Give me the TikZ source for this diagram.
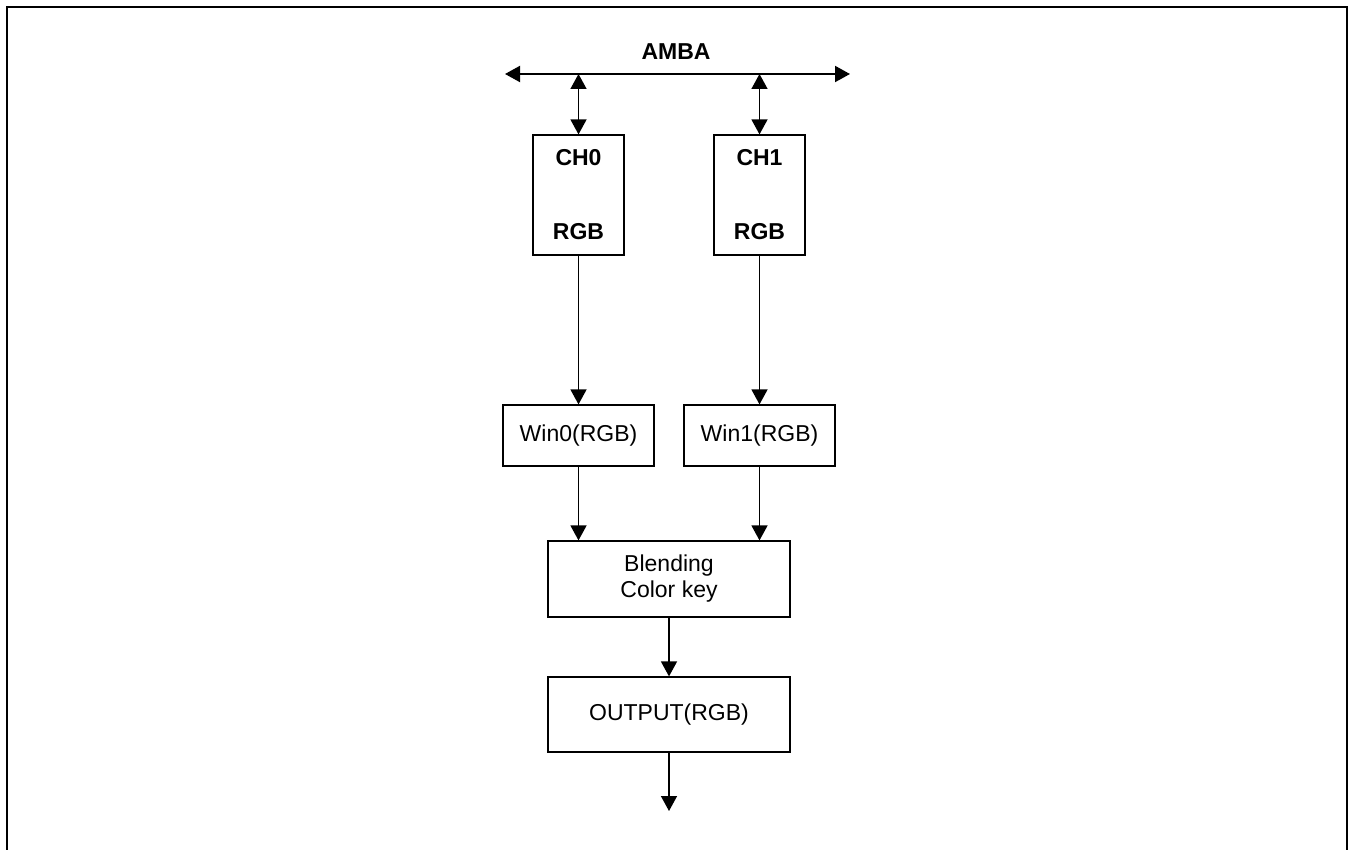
\documentclass[tikz,border=0pt]{standalone}
\usepackage{fontspec}
\setmainfont{Liberation Sans}
\usetikzlibrary{arrows.meta, positioning}

\begin{document}
\begin{tikzpicture}[x=0.5pt, y=-0.5pt, >={Triangle[length=7.5pt,width=8pt]},
  font=\fontsize{11.5}{13}\selectfont,
  blk/.style={draw, line width=0.6pt, inner sep=0pt, align=center},
  chbox/.style={blk, minimum width=45.5pt, minimum height=60pt, font=\fontsize{11.5}{13}\selectfont\bfseries},
  flow/.style={->, line width=0.75pt}]
\useasboundingbox (0,0) rectangle (1349,850);
% outer frame, bottom edge cut off
\draw[line width=1pt] (7,860)--(7,7)--(1347,7)--(1347,860);
% Bus
\node[font=\fontsize{11.5}{13}\selectfont\bfseries] (amba) at (676,52) {AMBA};
\coordinate (busL) at (505,74);
\coordinate (busR) at (850,74);
\draw[<->, line width=1pt] (busL)--(busR);
% Channels
\node[chbox] (ch0) at (578.5,195) {CH0\\[24pt]RGB};
\node[chbox] (ch1) at (759.5,195) {CH1\\[24pt]RGB};
\draw[<->, line width=0.75pt] (ch0.north |- busL)--(ch0.north);
\draw[<->, line width=0.75pt] (ch1.north |- busL)--(ch1.north);
% Windows
\node[blk, minimum width=75.5pt, minimum height=30.5pt] (win0) at (578.5,435.5) {Win0(RGB)};
\node[blk, minimum width=75.5pt, minimum height=30.5pt] (win1) at (759.5,435.5) {Win1(RGB)};
\draw[flow] (ch0.south)--(win0.north);
\draw[flow] (ch1.south)--(win1.north);
% Blending and output
\node[blk, minimum width=121pt, minimum height=38pt] (blend) at (669,579) {Blending\\Color key};
\node[blk, minimum width=121pt, minimum height=37.5pt] (out) at (669,714.5) {OUTPUT(RGB)};
\draw[flow] (win0.south)--(win0.south |- blend.north);
\draw[flow] (win1.south)--(win1.south |- blend.north);
\draw[flow] (blend.south)--(out.north);
\coordinate (outEnd) at (669,811);
\draw[flow] (out.south)--(outEnd);
\end{tikzpicture}
\end{document}
